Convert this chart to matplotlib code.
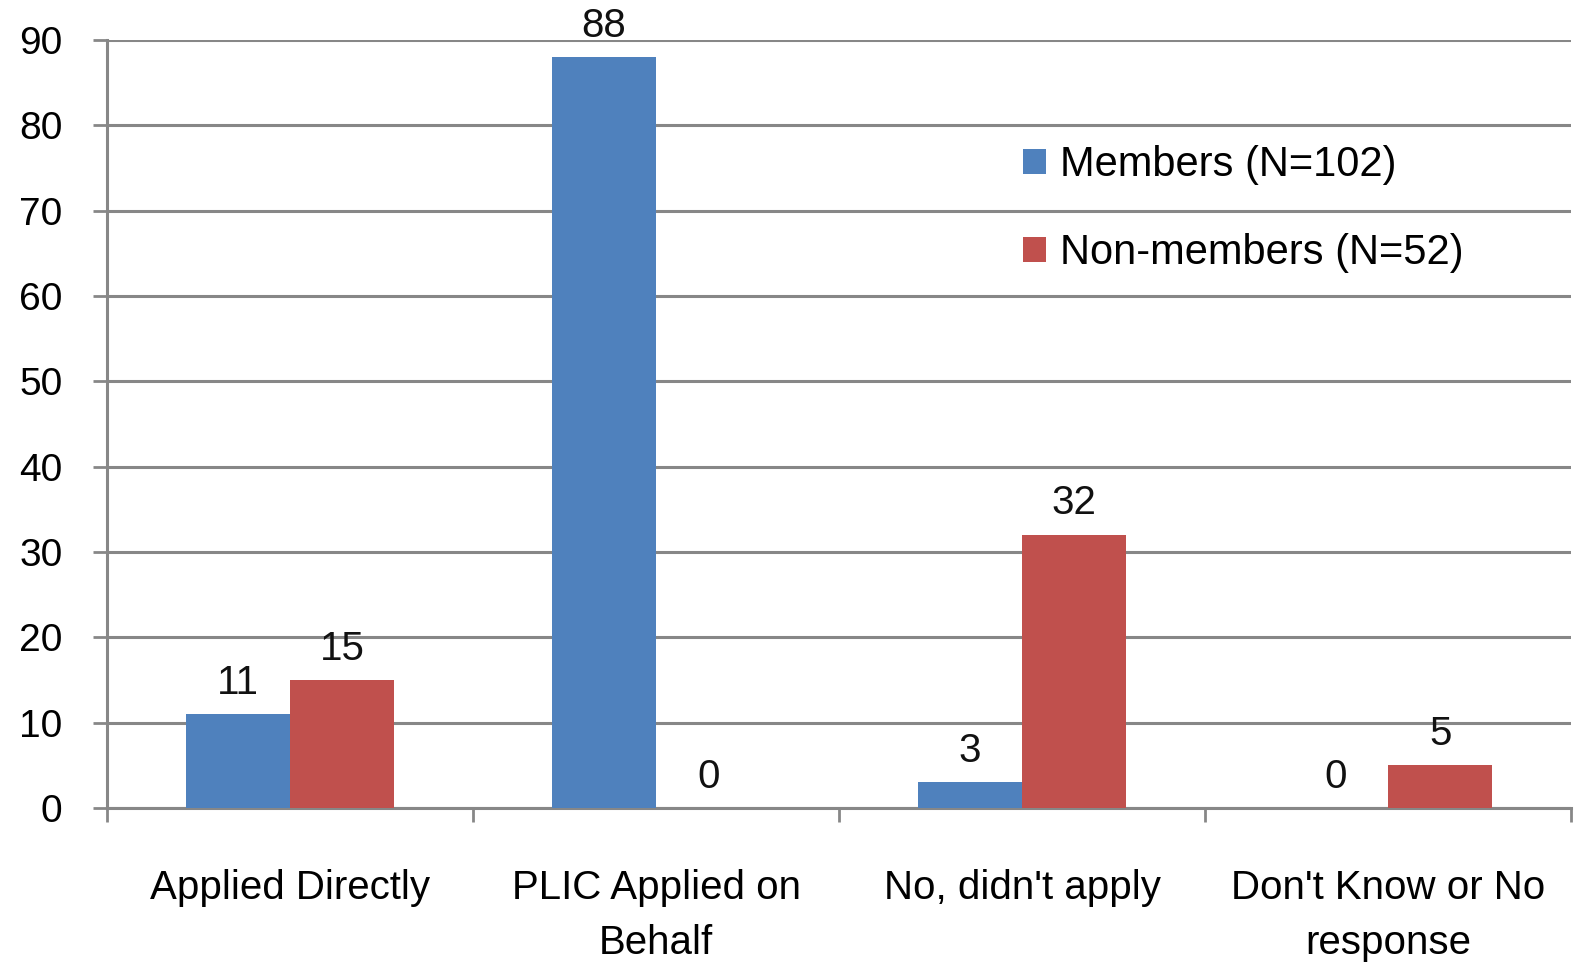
import matplotlib
matplotlib.use("Agg")
import matplotlib.pyplot as plt
import numpy as np

categories = ["Applied Directly", "PLIC Applied on\nBehalf", "No, didn't apply", "Don't Know or No\nresponse"]
series_names = ["Members (N=102)", "Non-members (N=52)"]
members = [11, 88, 3, 0]
non_members = [15, 0, 32, 5]
yticks = [0, 10, 20, 30, 40, 50, 60, 70, 80, 90]

blue = "#4F81BD"
red = "#C0504D"
grid_c = "#878787"

plt.rcParams['font.family'] = ['Liberation Sans', 'DejaVu Sans']

fig = plt.figure(figsize=(15.83, 9.64), dpi=100)
ax = fig.add_axes([107/1583, 1-808/964, (1571-107)/1583, (808-40)/964])

x = np.arange(len(categories))
w = 0.285
b1 = ax.bar(x - w/2, members, w, color=blue, label=series_names[0], zorder=3)
b2 = ax.bar(x + w/2, non_members, w, color=red, label=series_names[1], zorder=3)

for bars, vals in ((b1, members), (b2, non_members)):
    for r, v in zip(bars, vals):
        ax.annotate(str(v), (r.get_x() + r.get_width()/2, r.get_height()),
                    xytext=(0, 9), textcoords="offset points",
                    ha="center", va="bottom", fontsize=29, color="#111111", zorder=4)

ax.set_ylim(0, 90)
ax.set_xlim(-0.5, len(categories) - 0.5)
ax.set_yticks(yticks)
ax.set_yticklabels([str(t) for t in yticks], fontsize=28)
ax.yaxis.grid(True, color=grid_c, linewidth=2.2, zorder=0)
ax.set_axisbelow(True)

ax.set_xticks(x)
ax.set_xticklabels(categories, fontsize=29, linespacing=1.55)
ax.set_xticks(np.arange(len(categories) + 1) - 0.5, minor=True)
ax.tick_params(axis='x', which='major', length=0, pad=44)
ax.tick_params(axis='x', which='minor', length=10, width=2, color=grid_c, direction='out')
ax.tick_params(axis='y', length=10, width=2, color=grid_c, pad=22)

for s in ("top", "right"):
    ax.spines[s].set_visible(False)
for s in ("left", "bottom"):
    ax.spines[s].set_color(grid_c)
    ax.spines[s].set_linewidth(2.2)

leg = ax.legend(loc="center left", bbox_to_anchor=(0.6, 0.78), frameon=False,
                fontsize=30, handlelength=0.55, handleheight=0.55, handletextpad=0.35,
                labelspacing=1.15)

fig.savefig("out.png", dpi=100, facecolor="white")
